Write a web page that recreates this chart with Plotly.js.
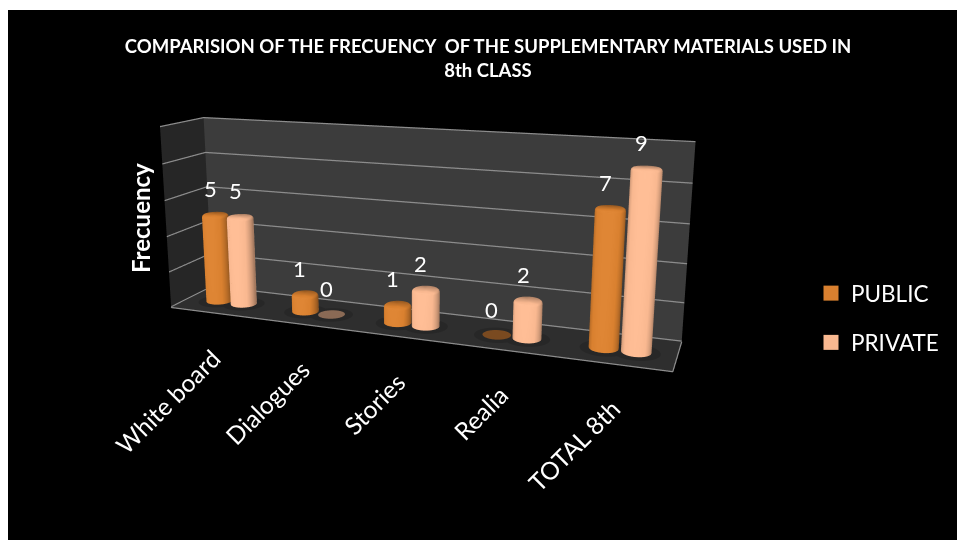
<!DOCTYPE html>
<html><head><meta charset="utf-8">
<script src="https://cdn.plot.ly/plotly-3.0.1.min.js"></script>
<style>
html,body{margin:0;background:#fff;overflow:hidden}
#frame{position:absolute;left:8px;top:10px;width:949px;height:530px;background:#000;overflow:hidden}
#c{position:absolute;left:-495px;top:-179px;width:1800px;height:800px}
</style></head>
<body><div id="frame"><div id="c"></div></div>
<script>
const categories=['White board','Dialogues','Stories','Realia','TOTAL 8th'];
const publicValues=[5,1,1,0,7];
const privateValues=[5,0,2,2,9];
const seriesNames=['PUBLIC','PRIVATE'];
const seriesColors=['#d9802f','#f9b890'];
const zeroColors=['#7a4a20','#8a6a55'];

// The plot div is larger than the frame: the long lens needs a tall scene.
const W=1800,H=800,OX=487,OY=169;
const px=x=>(x+OX)/W, py=y=>1-(y+OY)/H;

const aspect={x:2.69,y:0.42,z:1};
const xSpan=5, ySpan=1, zMin=-0.04, zMax=10;
const unitX=aspect.x/xSpan, unitY=aspect.y/ySpan, unitZ=aspect.z/(zMax-zMin);
const radius=0.072, barDepth=0.45;

function ringMesh(cx,cy,profile){
  const n=40,x=[],y=[],z=[],i=[],j=[],k=[];
  profile.forEach(p=>{for(let a=0;a<n;a++){const t=a/n*2*Math.PI;
    x.push(cx+p[0]*radius*Math.cos(t)/unitX);y.push(cy+p[0]*radius*Math.sin(t)/unitY);z.push(p[1]);}});
  const c=x.length;x.push(cx);y.push(cy);z.push(profile[profile.length-1][1]);
  for(let r=0;r<profile.length-1;r++)for(let a=0;a<n;a++){
    const b=(a+1)%n,s=r*n,u=(r+1)*n;
    i.push(s+a,s+b);j.push(s+b,u+b);k.push(u+a,u+a);
  }
  const top=(profile.length-1)*n;
  for(let a=0;a<n;a++){i.push(top+a);j.push(top+(a+1)%n);k.push(c);}
  return {x,y,z,i,j,k};
}
function bar(cx,cy,v,s){
  const b=0.014/unitZ;
  const prof=v>0?[[1,0],[1,v-b],[0.97,v-b*0.4],[0.88,v]]:[[1,0]];
  return Object.assign(ringMesh(cx,cy,prof),{type:'mesh3d',color:v>0?seriesColors[s]:zeroColors[s],
    flatshading:false,name:seriesNames[s],showlegend:false,
    lighting:v>0?{ambient:0.66,diffuse:0.5,specular:0.1,roughness:0.5,fresnel:0.1}:{ambient:1,diffuse:0,specular:0,fresnel:0},
    lightposition:{x:300,y:-2000,z:3200},hoverinfo:'skip'});
}
function shadow(cx,cy,scale){
  const m=ringMesh(cx,cy,[[0,-0.02],[scale,-0.02]]);
  return Object.assign(m,{type:'mesh3d',color:'#272727',showlegend:false,hoverinfo:'skip',
    lighting:{ambient:1,diffuse:0,specular:0,fresnel:0}});
}
// Legend swatches: empty marker traces, so the keys can be larger than a mesh key.
function legendKey(s){
  return {type:'scatter3d',mode:'markers',x:[null],y:[null],z:[null],name:seriesNames[s],showlegend:true,legendgroup:seriesNames[s],
    marker:{symbol:'square',size:15,color:seriesColors[s]},hoverinfo:'skip'};
}
const pairOffset=0.145;
const traces=[],labels=[];
categories.forEach((c,q)=>{
  const cx=q+0.5;
  traces.push(shadow(cx-pairOffset,barDepth,1.6),shadow(cx+pairOffset,barDepth,1.6));
  traces.push(bar(cx-pairOffset,barDepth,publicValues[q],0));
  traces.push(bar(cx+pairOffset,barDepth,privateValues[q],1));
  [[publicValues[q],-pairOffset],[privateValues[q],pairOffset]].forEach(([v,o])=>{
    labels.push({x:cx+o,y:barDepth,z:v,text:String(v),showarrow:false,xanchor:'center',yanchor:'bottom',yshift:10,xshift:-5,
      font:{family:'Lato',size:22,color:'#fff'}});
  });
  labels.push({x:cx,y:0,z:0,text:c,showarrow:false,textangle:-45,xanchor:'right',yanchor:'top',xshift:15,yshift:-28,
    font:{family:'Lato',size:24.5,color:'#fff'}});
});
traces.push(legendKey(0),legendKey(1));

Plotly.newPlot('c',traces,{
 paper_bgcolor:'#000',margin:{l:0,r:0,t:0,b:0},
 title:{text:'<b>COMPARISION OF THE FRECUENCY  OF THE SUPPLEMENTARY MATERIALS USED IN<br>8th CLASS</b>',
   font:{color:'#fff',size:18.5,family:'Lato'},x:px(488),xanchor:'center',y:py(53),yanchor:'top'},
 scene:{domain:{x:[0,1],y:[0,1]},aspectmode:'manual',aspectratio:aspect,
   xaxis:{range:[0,xSpan],showticklabels:false,ticks:'',title:{text:''},showgrid:false,zeroline:false,showline:true,linecolor:'#8c8c8c',linewidth:2.5,showspikes:false,showbackground:true,backgroundcolor:'#262626'},
   yaxis:{range:[0,ySpan],showticklabels:false,ticks:'',title:{text:''},showgrid:false,zeroline:false,showline:true,linecolor:'#8c8c8c',linewidth:2.5,showspikes:false,showbackground:true,backgroundcolor:'#3c3c3c'},
   zaxis:{range:[zMin,zMax],tickvals:[0,2,4,6,8,10],showticklabels:false,ticks:'',title:{text:''},showgrid:true,gridcolor:'#8c8c8c',gridwidth:2.5,zeroline:false,showline:false,showspikes:false,showbackground:true,backgroundcolor:'#2e2e2e'},
   camera:{eye:{x:1.68,y:-4.5,z:1.16},center:{x:0,y:0,z:0},up:{x:0,y:0,z:1}},
   annotations:labels},
 annotations:[{xref:'paper',yref:'paper',x:px(140),y:py(218),text:'<b>Frecuency</b>',textangle:-90,showarrow:false,font:{family:'Lato',size:24,color:'#fff'}}],
 showlegend:true,
 legend:{x:px(811),y:py(272),xanchor:'left',yanchor:'top',font:{family:'Lato',color:'#fff',size:22.5},traceorder:'grouped',tracegroupgap:17,bgcolor:'rgba(0,0,0,0)',itemsizing:'trace'}
},{displayModeBar:false});
</script></body></html>
